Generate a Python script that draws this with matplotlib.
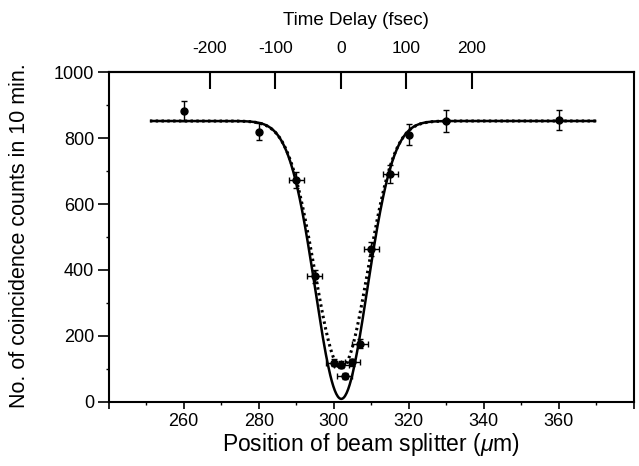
import numpy as np
import matplotlib
matplotlib.use("Agg")
import matplotlib.pyplot as plt
from matplotlib.ticker import MultipleLocator, FixedLocator, FuncFormatter

plt.rcParams['font.family'] = ['Liberation Sans', 'DejaVu Sans']
plt.rcParams['mathtext.fontset'] = 'custom'
plt.rcParams['mathtext.it'] = 'Liberation Sans:italic'
plt.rcParams['mathtext.rm'] = 'Liberation Sans'

# ---- data ----
position = [260, 280, 290, 295, 300, 302, 303, 305, 307, 310, 315, 320, 330, 360]
counts = [882, 820, 673, 380, 118, 112, 78, 120, 176, 463, 691, 810, 852, 855]
count_err = [31, 25, 25, 19, 11, 11, 9, 11, 13, 21, 26, 32, 32, 31]
pos_err = [0, 0, 2, 2, 2, 2, 2, 2, 2, 2, 2, 0, 0, 0]

# fitted curves (Gaussian dip) parameters
baseline = 852
center = 302.0
solid_visibility, solid_width = 0.99, 9.8
dotted_visibility, dotted_width = 0.88, 10.0
curve_range = (251, 370)

# time-delay axis: position = delay_zero + delay_scale * t(fs)
delay_zero, delay_scale = 301.9, 0.1746
delay_ticks = [-200, -100, 0, 100, 200]

fig = plt.figure(figsize=(6.39, 4.66), dpi=100)
ax = fig.add_axes([0.170, 0.138, 0.822, 0.707])

xs = np.linspace(curve_range[0], curve_range[1], 600)
solid = baseline * (1 - solid_visibility * np.exp(-((xs - center) / solid_width) ** 2))
dotted = baseline * (1 - dotted_visibility * np.exp(-((xs - center) / dotted_width) ** 2))
ax.plot(xs, solid, color='black', lw=1.8, solid_capstyle='butt')
ax.plot(xs, dotted, color='black', lw=2.2, linestyle=(0, (0.8, 1.1)))

ax.errorbar(position, counts, yerr=count_err, xerr=pos_err,
            fmt='o', color='black', ms=5, elinewidth=1.0, capsize=2.2, capthick=1.0)

ax.set_xlim(240, 380)
ax.set_ylim(0, 1000)
ax.xaxis.set_major_locator(MultipleLocator(20))
ax.xaxis.set_minor_locator(MultipleLocator(10))
ax.xaxis.set_major_formatter(FuncFormatter(lambda v, p: '' if v in (240, 380) else f'{int(v)}'))
ax.yaxis.set_major_locator(MultipleLocator(200))
ax.yaxis.set_minor_locator(MultipleLocator(100))

ax.tick_params(axis='x', which='major', direction='out', length=5, width=1.2, labelsize=13, pad=3.5)
ax.tick_params(axis='x', which='minor', direction='out', length=2.5, width=1.0)
ax.tick_params(axis='y', which='major', direction='out', length=8, width=1.2, labelsize=13, pad=2.5)
ax.tick_params(axis='y', which='minor', direction='out', length=2.5, width=1.0)
for s in ax.spines.values():
    s.set_linewidth(1.5)

ax.set_xlabel(r'Position of beam splitter ($\mu$m)', fontsize=16.5)
ax.xaxis.label.set_va('center')
ax.xaxis.set_label_coords(0.5, -0.131)
ax.set_ylabel('No. of coincidence counts in 10 min.', fontsize=15.5)
ax.yaxis.label.set_va('center')
ax.yaxis.set_label_coords(-0.1705, 0.505)

top = ax.secondary_xaxis('top', functions=(lambda x: (x - delay_zero) / delay_scale,
                                           lambda t: delay_zero + delay_scale * t))
top.xaxis.set_major_locator(FixedLocator(delay_ticks))
top.xaxis.set_major_formatter(FuncFormatter(lambda v, p: f'{int(round(v))}'))
top.tick_params(axis='x', direction='in', length=12, width=1.5, labelsize=12.5, pad=12)
top.spines['top'].set_linewidth(1.5)
top.set_xlabel('Time Delay (fsec)', fontsize=13.5, labelpad=11)
top.xaxis.label.set_x(0.471)

fig.savefig('out.png', dpi=100)
